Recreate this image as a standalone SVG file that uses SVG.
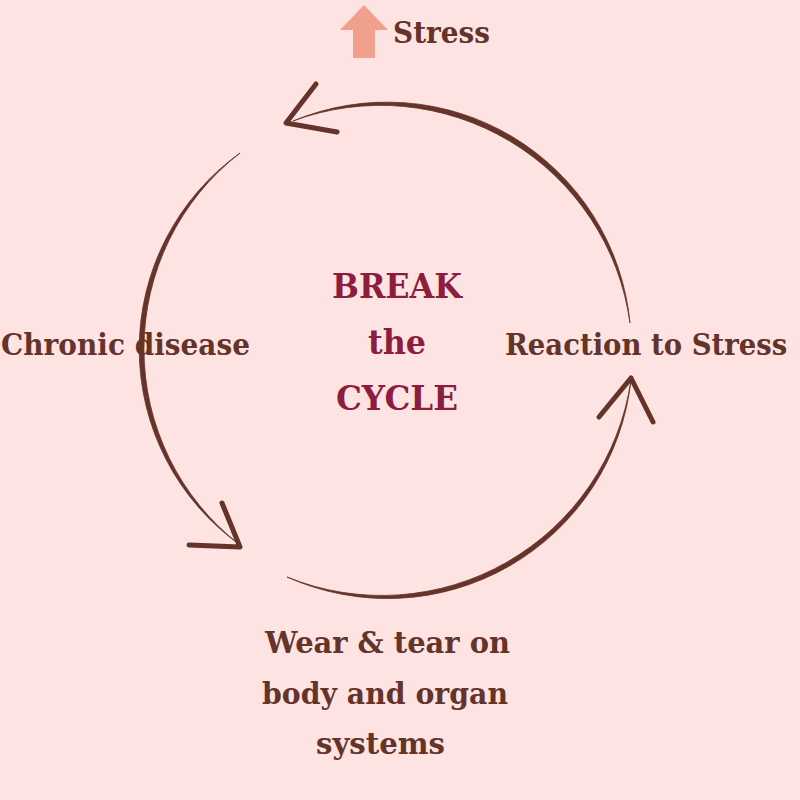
<svg xmlns="http://www.w3.org/2000/svg" width="800" height="800" viewBox="0 0 800 800">
<style>
.lbl{font-family:"DejaVu Serif","Liberation Serif",serif;font-weight:bold;fill:#643329;font-size:30px}
.ttl{font-family:"DejaVu Serif","Liberation Serif",serif;font-weight:bold;fill:#8c1d3e;font-size:33px;text-anchor:middle}
.arc{fill:#643329;stroke:#643329;stroke-width:0.8}
.head{fill:none;stroke:#643329;stroke-width:5;stroke-linecap:round;stroke-linejoin:round}
</style>
<rect width="800" height="800" fill="#fde3e1"/>
<g id="connectors">
<path class="arc" d="M293,121 A244,244 0 0 1 630,323 A252,252 0 0 0 293,121 Z"/>
<polyline class="head" points="316,84 286,123 337,132"/>
<path class="arc" d="M240,153 A241,241 0 0 0 240,545 A248,248 0 0 1 240,153 Z"/>
<polyline class="head" points="222,503 240,547 189,545"/>
<path class="arc" d="M287,577 A245,245 0 0 0 631,380 A252,252 0 0 1 287,577 Z"/>
<polyline class="head" points="599,417 631,378 653,422"/>
</g>
<g id="stress">
<polygon points="364,5 340,30 353,30 353,58 375,58 375,30 388,30" fill="#f0a08c"/>
<text class="lbl" x="393" y="43" textLength="97" lengthAdjust="spacingAndGlyphs">Stress</text>
</g>
<g id="center">
<text class="ttl" x="397" y="298" textLength="130" lengthAdjust="spacingAndGlyphs">BREAK</text>
<text class="ttl" x="397" y="354" textLength="58" lengthAdjust="spacingAndGlyphs">the</text>
<text class="ttl" x="397" y="410" textLength="122" lengthAdjust="spacingAndGlyphs">CYCLE</text>
</g>
<g id="reaction">
<text class="lbl" transform="translate(505,355) scale(0.85,1)" x="0" y="0" textLength="332" lengthAdjust="spacingAndGlyphs">Reaction to Stress</text>
</g>
<g id="chronic">
<text class="lbl" x="1" y="355" textLength="249" lengthAdjust="spacingAndGlyphs">Chronic disease</text>
</g>
<g id="wear">
<text class="lbl" x="265" y="653" textLength="245" lengthAdjust="spacingAndGlyphs">Wear &amp; tear on</text>
<text class="lbl" x="262" y="704" textLength="246" lengthAdjust="spacingAndGlyphs">body and organ</text>
<text class="lbl" x="316" y="754" textLength="129" lengthAdjust="spacingAndGlyphs">systems</text>
</g>
</svg>
